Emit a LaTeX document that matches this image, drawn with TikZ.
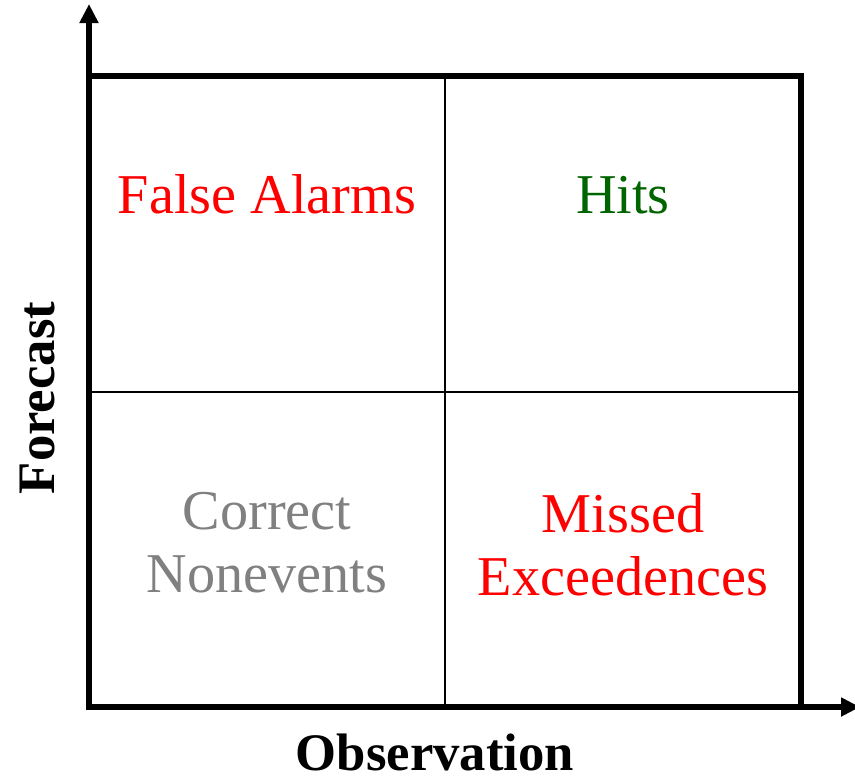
\documentclass[tikz,border=0pt]{standalone}
\usepackage{fontspec}
\setmainfont{Liberation Serif}
\usetikzlibrary{arrows.meta}
\definecolor{alarmred}{HTML}{FF0000}
\definecolor{hitgreen}{HTML}{006400}
\definecolor{nonegray}{HTML}{808080}
\tikzset{
  axisline/.style={line width=3.4pt, -{Triangle[length=0.38cm, width=0.36cm]}},
  boxline/.style={line width=3.4pt},
  splitline/.style={line width=1.1pt},
  cellname/.style={font=\fontsize{32}{36}\selectfont, align=center, inner sep=0pt},
  axisname/.style={font=\bfseries\fontsize{30}{36}\selectfont, inner sep=0pt},
}
\begin{document}
\begin{tikzpicture}[x=0.02cm, y=-0.02cm]
    \useasboundingbox (0,0) rectangle (855,779);
    \coordinate (origin) at (89,707);
    \coordinate (ytop) at (89,4);
    \coordinate (xend) at (860,707);
    \coordinate (topleft) at (89,76);
    \coordinate (topright) at (801,76);
    \coordinate (botright) at (801,707);
    \coordinate (midtop) at (445,76);
    \coordinate (midbot) at (445,707);
    \coordinate (midleft) at (89,392);
    \coordinate (midright) at (801,392);
    % quadrants
    \draw[splitline] (midtop) -- (midbot);
    \draw[splitline] (midleft) -- (midright);
    \draw[boxline] (origin) -- (topleft) -- (topright) -- (botright) -- cycle;
    % axes
    \draw[axisline] (origin) -- (ytop);
    \draw[axisline] (origin) -- (xend);
    \node[cellname, text=alarmred, anchor=base] (falsealarms) at (267,213) {False Alarms};
    \node[cellname, text=hitgreen, anchor=base] (hits) at (623,213) {Hits};
    \node[cellname, text=nonegray] (nonevents) at (267,543) {Correct\\Nonevents};
    \node[cellname, text=alarmred] (missed) at (623,545) {Missed\\Exceedences};
    \node[axisname, rotate=90] (forecast) at (38,398) {Forecast};
    \node[axisname] (observation) at (435,752) {Observation};
  \end{tikzpicture}
\end{document}
